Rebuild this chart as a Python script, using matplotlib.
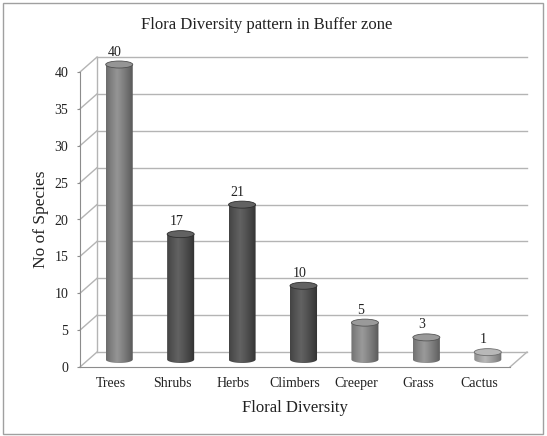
import numpy as np
import matplotlib
matplotlib.use("Agg")
import matplotlib.pyplot as plt
from matplotlib.path import Path
from matplotlib.patches import Ellipse, PathPatch, Rectangle
from matplotlib.colors import LinearSegmentedColormap

plt.rcParams['font.family'] = ['Liberation Serif', 'DejaVu Serif']

categories = ['Trees', 'Shrubs', 'Herbs', 'Climbers', 'Creeper', 'Grass', 'Cactus']
species = [40, 17, 21, 10, 5, 3, 1]
yticks = [0, 5, 10, 15, 20, 25, 30, 35, 40]

# shading per bar: (edge colour, highlight colour)
shades = [('#505050', '#959595'),
          ('#2e2e2e', '#626262'),
          ('#2e2e2e', '#626262'),
          ('#2e2e2e', '#626262'),
          ('#555555', '#9a9a9a'),
          ('#555555', '#9a9a9a'),
          ('#6e6e6e', '#b8b8b8')]

W, H = 547, 436
fig = plt.figure(figsize=(W / 100, H / 100), dpi=100)
ax = fig.add_axes([80 / W, (H - 367) / H, 430 / W, 295 / H])
ax.set_xlim(-0.5, 6.5)
ax.set_ylim(0, 40)

# oblique depth of the 3-D box in data units
DX, DY = 0.277, 2.03
grid_c = '#b4b4b4'

# back wall, side wall and floor
for v in yticks:
    ax.plot([-0.5 + DX, 6.5 + DX], [v + DY, v + DY], color=grid_c, lw=1, clip_on=False, zorder=1)
    ax.plot([-0.5, -0.5 + DX], [v, v + DY], color=grid_c, lw=1, clip_on=False, zorder=1)
ax.plot([-0.5 + DX, -0.5 + DX], [DY, 40 + DY], color=grid_c, lw=1, clip_on=False, zorder=1)
ax.plot([6.5, 6.5 + DX], [0, DY], color=grid_c, lw=1, clip_on=False, zorder=1)

# cylinders
bw = 0.44
eh = 0.95
t = np.linspace(0, 1, 64)
profile = np.clip(1 - np.abs(t - 0.4) / 0.6, 0, 1) ** 0.8
theta = np.linspace(np.pi, 2 * np.pi, 40)
for i, (v, (c0, c1)) in enumerate(zip(species, shades)):
    xc = i + DX / 2
    base = DY / 2
    top = v + DY / 2
    x0, x1 = xc - bw / 2, xc + bw / 2
    arc_x = xc + bw / 2 * np.cos(theta)
    arc_y = base + eh / 2 * np.sin(theta)
    verts = [(x0, top)] + list(zip(arc_x, arc_y)) + [(x1, top), (x0, top)]
    codes = [Path.MOVETO] + [Path.LINETO] * (len(verts) - 2) + [Path.CLOSEPOLY]
    body = PathPatch(Path(verts, codes), facecolor='none', edgecolor='none')
    ax.add_patch(body)
    cmap = LinearSegmentedColormap.from_list('cyl%d' % i, [c0, c1])
    im = ax.imshow(profile[np.newaxis, :], cmap=cmap, aspect='auto',
                   extent=[x0, x1, base - eh / 2, top], zorder=3,
                   interpolation='bilinear', vmin=0, vmax=1)
    im.set_clip_path(body)
    im.set_clip_box(fig.bbox)
    ax.add_patch(Ellipse((xc, top), bw, eh, facecolor=c1, edgecolor=c0,
                         lw=0.6, zorder=4, clip_on=False))
    ax.annotate(str(v), (i + 0.07, top), xytext=(0, 9), textcoords='offset points',
                ha='center', va='center', fontsize=10, color='#222222', zorder=5,
                annotation_clip=False)

ax.set_xlim(-0.5, 6.5)
ax.set_ylim(0, 40)

for side in ['top', 'right']:
    ax.spines[side].set_visible(False)
ax.spines['left'].set_color('#8c8c8c')
ax.spines['bottom'].set_color('#8c8c8c')
ax.set_xticks(range(len(categories)))
ax.set_xticklabels(categories)
ax.set_yticks(yticks)
ax.tick_params(axis='x', length=0, pad=7, labelsize=10, labelcolor='#222222')
ax.tick_params(axis='y', length=2.5, width=0.8, color='#8c8c8c', pad=6,
               labelsize=10, labelcolor='#222222')
ax.set_xlabel('Floral Diversity', fontsize=12, color='#222222')
ax.xaxis.set_label_coords(0.5, -0.112)
ax.set_ylabel('No of Species', fontsize=12.5, color='#222222')
ax.yaxis.set_label_coords(-0.072, 0.5)

fig.text(267 / W, 1 - 25 / H, 'Flora Diversity pattern in Buffer zone',
         ha='center', va='center', fontsize=12, color='#222222')

# chart frame
fig.patches.append(Rectangle((3 / W, (H - 434) / H), 540 / W, 431 / H,
                             transform=fig.transFigure, fill=False,
                             edgecolor='#a0a0a0', lw=1))

fig.savefig('out.png', dpi=100)
